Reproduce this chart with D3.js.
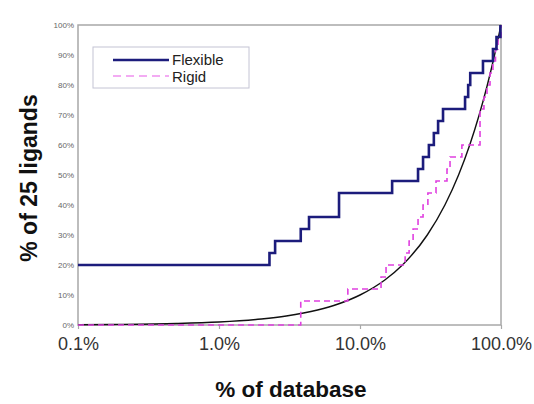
<!DOCTYPE html>
<html>
<head>
<meta charset="utf-8">
<script src="https://cdn.jsdelivr.net/npm/d3@7"></script>
<style>
  body { margin: 0; background: #fff; }
  text { font-family: "Liberation Sans", Arial, sans-serif; }
</style>
</head>
<body>
<svg id="chart" width="534" height="404"></svg>
<script>
// Axis ticks and labels
const xTicks = [0.1, 1, 10, 100];
const xTickLabels = ["0.1%", "1.0%", "10.0%", "100.0%"];
const yTicks = [0, 10, 20, 30, 40, 50, 60, 70, 80, 90, 100];
const yTickLabels = ["0%", "10%", "20%", "30%", "40%", "50%", "60%", "70%", "80%", "90%", "100%"];

// % of database screened at which each of the 25 ligands is recovered
const flexibleHits = [0.1, 0.1, 0.1, 0.1, 0.1, 2.28, 2.5, 3.8, 4.35, 7.1, 7.1, 16.9,
  25.8, 28.0, 30.8, 33.4, 35.8, 38.8, 55.6, 58.5, 60.5, 74.5, 87.7, 92.9, 99.0];
const rigidHits = [3.8, 3.8, 8.2, 14.1, 15.3, 20.9, 22.3, 23.8, 25.8, 28.0, 30.3, 34.6,
  41.4, 43.5, 52.8, 71.0, 71.0, 71.0, 75.7, 79.6, 83.6, 87.7, 91.4, 95.2, 100];
const ligandCount = 25;

// Random-selection reference curve (% ligands vs % database)
const randomX = [0.1, 0.2, 0.5, 1, 2, 3, 5, 7, 10, 15, 20, 30, 40, 50, 60, 70, 80, 90, 100];
const randomY = [0.1, 0.2, 0.5, 1, 2, 3, 5, 7, 10, 15, 20, 30, 40, 50, 60, 70, 80, 90, 100];

const svg = d3.select("#chart");
const plot = { left: 78, right: 501, top: 25, bottom: 325 };

const x = d3.scaleLog().domain([0.1, 100]).range([plot.left, plot.right]);
const y = d3.scaleLinear().domain([0, 100]).range([plot.bottom, plot.top]);

svg.append("defs").append("clipPath").attr("id", "plotClip")
  .append("rect")
  .attr("x", plot.left).attr("y", plot.top - 2)
  .attr("width", plot.right - plot.left + 2).attr("height", plot.bottom - plot.top + 4);

// Cumulative step points from the recovery positions
function stepPoints(hits) {
  const xMin = x.domain()[0];
  const start = hits.filter(h => h <= xMin).length;
  const pts = [[xMin, start / ligandCount * 100]];
  hits.filter(h => h > xMin).forEach((h, i) => {
    pts.push([h, (start + i + 1) / ligandCount * 100]);
  });
  return pts;
}

// Plot frame
svg.append("rect")
  .attr("x", plot.left).attr("y", plot.top)
  .attr("width", plot.right - plot.left).attr("height", plot.bottom - plot.top)
  .attr("fill", "#fff").attr("stroke", "#a8a8a8").attr("stroke-width", 1.5);

// X axis
const xAxis = svg.append("g")
  .attr("transform", `translate(0,${plot.bottom})`)
  .call(d3.axisBottom(x).tickValues(xTicks)
    .tickFormat((d, i) => xTickLabels[i]).tickSize(4).tickPadding(8));
xAxis.select(".domain").remove();
xAxis.selectAll(".tick line").attr("stroke", "#a8a8a8").attr("stroke-width", 1.2);
xAxis.selectAll(".tick text")
  .attr("font-size", 18).attr("fill", "#333")
  .style("font-family", "'Liberation Sans', Arial, sans-serif");

// Y axis
const yAxis = svg.append("g")
  .attr("transform", `translate(${plot.left},0)`)
  .call(d3.axisLeft(y).tickValues(yTicks)
    .tickFormat((d, i) => yTickLabels[i]).tickSize(0).tickPadding(4));
yAxis.select(".domain").remove();
yAxis.selectAll(".tick text")
  .attr("font-size", 8).attr("fill", "#666")
  .style("font-family", "'Liberation Sans', Arial, sans-serif");

const g = svg.append("g").attr("clip-path", "url(#plotClip)");

// Random reference curve
g.append("path")
  .datum(randomX.map((v, i) => [v, randomY[i]]))
  .attr("fill", "none").attr("stroke", "#111").attr("stroke-width", 1.4)
  .attr("d", d3.line().x(d => x(d[0])).y(d => y(d[1])).curve(d3.curveMonotoneX));

// Rigid docking
g.append("path")
  .datum(stepPoints(rigidHits))
  .attr("fill", "none").attr("stroke", "#e040e0").attr("stroke-width", 1.6)
  .attr("stroke-dasharray", "6,4")
  .attr("d", d3.line().x(d => x(d[0])).y(d => y(d[1])).curve(d3.curveStepAfter));

// Flexible docking
g.append("path")
  .datum(stepPoints(flexibleHits))
  .attr("fill", "none").attr("stroke", "#1c1c7c").attr("stroke-width", 2.6)
  .attr("d", d3.line().x(d => x(d[0])).y(d => y(d[1])).curve(d3.curveStepAfter));

// Legend
const legend = svg.append("g");
legend.append("rect")
  .attr("x", 93).attr("y", 47).attr("width", 156).attr("height", 41)
  .attr("fill", "#fff").attr("stroke", "#c4c4d4").attr("stroke-width", 1);
legend.append("line")
  .attr("x1", 113).attr("x2", 169).attr("y1", 60).attr("y2", 60)
  .attr("stroke", "#1c1c7c").attr("stroke-width", 2.6);
legend.append("line")
  .attr("x1", 113).attr("x2", 169).attr("y1", 76).attr("y2", 76)
  .attr("stroke", "#f090f0").attr("stroke-width", 1.6).attr("stroke-dasharray", "8,5");
legend.append("text").attr("x", 172).attr("y", 65)
  .attr("font-size", 15).attr("fill", "#222").text("Flexible");
legend.append("text").attr("x", 172).attr("y", 82)
  .attr("font-size", 15).attr("fill", "#222").text("Rigid");

// Axis titles
svg.append("text")
  .attr("x", 291).attr("y", 397)
  .attr("text-anchor", "middle").attr("font-size", 22.5).attr("font-weight", "bold")
  .attr("fill", "#111").text("% of database");
svg.append("text")
  .attr("transform", "translate(37,178) rotate(-90)")
  .attr("text-anchor", "middle").attr("font-size", 23).attr("font-weight", "bold")
  .attr("fill", "#111").text("% of 25 ligands");
</script>
</body>
</html>
